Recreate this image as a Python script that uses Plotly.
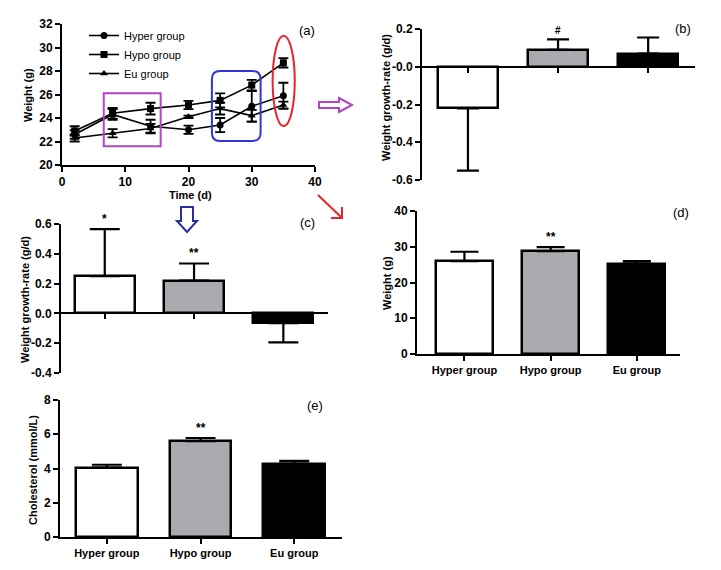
import plotly.graph_objects as go

# page body has an 8px margin: figure is drawn at (8, 8) in the 721x570 window
OFF = 8
W, H = 721 - 2 * OFF, 570 - 2 * OFF

# ---------------- data ----------------
days = [2, 8, 14, 20, 25, 30, 35]
hyper_w = [22.6, 24.3, 23.3, 23.0, 23.4, 25.0, 25.9]
hyper_w_sd = [0.35, 0.45, 0.55, 0.35, 0.6, 1.3, 1.1]
hypo_w = [22.9, 24.4, 24.8, 25.1, 25.5, 26.8, 28.7]
hypo_w_sd = [0.4, 0.45, 0.5, 0.35, 0.6, 0.45, 0.4]
eu_w = [22.3, 22.7, 23.1, 24.1, 24.8, 24.2, 25.1]
eu_w_sd = [0.3, 0.35, 0.4, 0.1, 0.5, 0.5, 0.3]

groups = ["Hyper group", "Hypo group", "Eu group"]
bar_colors = ["#ffffff", "#a9a9ae", "#000000"]

rate_b = [-0.22, 0.09, 0.07]
rate_b_up = [0.0, 0.055, 0.085]
rate_b_down = [0.33, 0.0, 0.0]
sig_b = ["", "#", ""]

rate_c = [0.25, 0.22, -0.065]
rate_c_up = [0.315, 0.115, 0.0]
rate_c_down = [0.0, 0.0, 0.13]
sig_c = ["*", "**", ""]

weight_d = [26.0, 28.8, 25.3]
weight_d_sd = [2.6, 1.1, 0.7]
sig_d = ["", "**", ""]

chol_e = [4.05, 5.6, 4.28]
chol_e_sd = [0.17, 0.18, 0.17]
sig_e = ["", "**", ""]

b_ticks = [0.2, 0.0, -0.2, -0.4, -0.6]
b_ticktext = ["0.2", "-0.0", "-0.2", "-0.4", "-0.6"]
c_ticks = [0.6, 0.4, 0.2, 0.0, -0.2, -0.4]
c_ticktext = ["0.6", "0.4", "0.2", "0.0", "-0.2", "-0.4"]

# ---------------- helpers (layout only: window pixel -> paper fraction) ----------------
def fx(p):
    return (p - OFF) / W

def fy(p):
    return 1 - (p - OFF) / H

FONT = "Liberation Sans, Arial, sans-serif"
tickfont = dict(family=FONT, size=12, color="black", weight="bold")

fig = go.Figure()

# ---------------- panel (a) ----------------
for name, y, sd, sym in [("Hyper group", hyper_w, hyper_w_sd, "circle"),
                         ("Hypo group", hypo_w, hypo_w_sd, "square"),
                         ("Eu group", eu_w, eu_w_sd, "triangle-up")]:
    fig.add_trace(go.Scatter(
        x=days, y=y, name=name, mode="lines+markers",
        line=dict(color="black", width=1.6),
        marker=dict(symbol=sym, size=7, color="black"),
        error_y=dict(type="data", array=sd, color="black", thickness=1.8, width=5),
        xaxis="x", yaxis="y"))

def bar_trace(vals, up, down, ax, width, cap):
    return go.Bar(
        x=groups, y=vals, width=width, showlegend=False,
        marker=dict(color=bar_colors, line=dict(color="black", width=2.5)),
        error_y=dict(type="data", symmetric=False, array=up, arrayminus=down,
                     color="black", thickness=2.2, width=cap),
        xaxis="x" + ax, yaxis="y" + ax)

fig.add_trace(bar_trace(rate_b, rate_b_up, rate_b_down, "2", 0.67, 11))
fig.add_trace(bar_trace(rate_c, rate_c_up, rate_c_down, "3", 0.67, 15))
fig.add_trace(bar_trace(weight_d, weight_d_sd, [0, 0, 0], "4", 0.66, 14))
fig.add_trace(bar_trace(chol_e, chol_e_sd, [0, 0, 0], "5", 0.66, 15))

axline = dict(showline=True, linecolor="black", linewidth=2, ticks="outside",
              tickcolor="black", tickwidth=2, ticklen=5, showgrid=False,
              zeroline=False, tickfont=tickfont, automargin=False)

# domains from pixel boxes (window coordinates)
dom_a = dict(x=[fx(62), fx(315)], y=[fy(165), fy(24)])
dom_b = dict(x=[fx(422), fx(695)], y=[fy(180), fy(29)])
dom_c = dict(x=[fx(61), fx(328)], y=[fy(373), fy(224)])
dom_d = dict(x=[fx(417), fx(680)], y=[fy(354), fy(211)])
dom_e = dict(x=[fx(60), fx(342)], y=[fy(537), fy(400)])

def zero_pos(dom, lo, hi):
    return dom["y"][0] + (0 - lo) / (hi - lo) * (dom["y"][1] - dom["y"][0])

fig.update_layout(
    width=W, height=H, margin=dict(l=0, r=0, t=0, b=0, autoexpand=False),
    paper_bgcolor="white", plot_bgcolor="rgba(0,0,0,0)",
    font=dict(family=FONT, color="black"),
    bargap=0,
    xaxis=dict(domain=dom_a["x"], range=[0, 40], tickvals=[0, 10, 20, 30, 40],
               anchor="y", **axline),
    yaxis=dict(domain=dom_a["y"], range=[20, 32], tickvals=list(range(20, 33, 2)),
               anchor="x", **axline),
    xaxis2=dict(domain=dom_b["x"], range=[-0.51, 2.52], anchor="free",
                position=zero_pos(dom_b, -0.6, 0.2), showticklabels=False,
                tickvals=groups, **axline),
    yaxis2=dict(domain=dom_b["y"], range=[-0.6, 0.2], tickvals=b_ticks,
                ticktext=b_ticktext, anchor="x2", **axline),
    xaxis3=dict(domain=dom_c["x"], range=[-0.49, 2.5], anchor="free",
                position=zero_pos(dom_c, -0.4, 0.6), showticklabels=False,
                tickvals=groups, **axline),
    yaxis3=dict(domain=dom_c["y"], range=[-0.4, 0.6], tickvals=c_ticks,
                ticktext=c_ticktext, anchor="x3", **axline),
    xaxis4=dict(domain=dom_d["x"], range=[-0.55, 2.5], anchor="y4", **axline),
    yaxis4=dict(domain=dom_d["y"], range=[0, 40], tickvals=[0, 10, 20, 30, 40],
                anchor="x4", **axline),
    xaxis5=dict(domain=dom_e["x"], range=[-0.5, 2.51], anchor="y5", **axline),
    yaxis5=dict(domain=dom_e["y"], range=[0, 8], tickvals=[0, 2, 4, 6, 8],
                anchor="x5", **axline),
    legend=dict(x=fx(84), y=fy(21), xanchor="left", yanchor="top",
                bgcolor="rgba(0,0,0,0)", font=dict(family=FONT, size=11, color="black"),
                tracegroupgap=0, itemwidth=30),
)

for ax in ["xaxis4", "xaxis5"]:
    fig.layout[ax].tickfont = dict(family=FONT, size=11, color="black", weight="bold")

ann = []
titlefont = dict(family=FONT, size=11, color="black", weight="bold")

def ptext(text, x, y, angle=0, font=titlefont):
    ann.append(dict(text=text, x=fx(x), y=fy(y), xref="paper", yref="paper",
                    showarrow=False, textangle=angle, font=font,
                    xanchor="center", yanchor="middle"))

ptext("Weight (g)", 28, 95, -90)
ptext("Time (d)", 190, 195)
ptext("Weight growth-rate (g/d)", 386, 98, -90)
ptext("Weight growth-rate (g/d)", 25, 300, -90)
ptext("Weight (g)", 387, 283, -90)
ptext("Cholesterol (mmol/L)", 33, 470, -90)

labfont = dict(family=FONT, size=13, color="black")
ptext("(a)", 307, 30, 0, labfont)
ptext("(b)", 683, 29, 0, labfont)
ptext("(c)", 307, 223, 0, labfont)
ptext("(d)", 681, 213, 0, labfont)
ptext("(e)", 315, 405, 0, labfont)

sigfont = dict(family=FONT, size=12, color="black", weight="bold")
for ax, vals, up, sig in [("2", rate_b, rate_b_up, sig_b), ("3", rate_c, rate_c_up, sig_c),
                          ("4", weight_d, weight_d_sd, sig_d), ("5", chol_e, chol_e_sd, sig_e)]:
    for g, v, u, s in zip(groups, vals, up, sig):
        if s:
            ann.append(dict(text=s, x=g, y=v + u, xref="x" + ax, yref="y" + ax,
                            showarrow=False, yanchor="bottom", yshift=1,
                            font=dict(sigfont, size=10 if s == "#" else 12)))
fig.update_layout(annotations=ann)

# ---------------- highlight shapes ----------------
purple = "#b146c2"
blue = "#2f35d6"
navy = "#2b2f9c"
red = "#e8242a"

shapes = []
shapes.append(dict(type="rect", xref="x", yref="y", x0=6.6, x1=15.6, y0=21.6, y1=26.1,
                   line=dict(color=purple, width=2)))
# rounded rectangle (blue)
x0, x1, y0, y1, rx, ry = 23.7, 31.4, 22.05, 28.0, 1.3, 0.7
path = (f"M{x0+rx},{y0} L{x1-rx},{y0} Q{x1},{y0} {x1},{y0+ry} L{x1},{y1-ry} "
        f"Q{x1},{y1} {x1-rx},{y1} L{x0+rx},{y1} Q{x0},{y1} {x0},{y1-ry} "
        f"L{x0},{y0+ry} Q{x0},{y0} {x0+rx},{y0} Z")
shapes.append(dict(type="path", xref="x", yref="y", path=path,
                   line=dict(color=blue, width=2)))
shapes.append(dict(type="circle", xref="x", yref="y", x0=33.3, x1=36.8, y0=23.3, y1=31.0,
                   line=dict(color=red, width=2)))

def ppath(pts, close=True):
    s = "M" + " L".join(f"{fx(x):.5f},{fy(y):.5f}" for x, y in pts)
    return s + (" Z" if close else "")

shapes.append(dict(type="path", xref="paper", yref="paper",
                   path=ppath([(319, 102), (339, 102), (339, 98), (352, 105),
                               (339, 112), (339, 108), (319, 108)]),
                   line=dict(color=purple, width=2)))
shapes.append(dict(type="path", xref="paper", yref="paper",
                   path=ppath([(181, 207), (193, 207), (193, 221), (197, 221),
                               (187, 232), (177, 221), (181, 221)]),
                   line=dict(color=navy, width=2)))
shapes.append(dict(type="path", xref="paper", yref="paper",
                   path=ppath([(318, 195), (342, 218)], close=False),
                   line=dict(color=red, width=2)))
shapes.append(dict(type="path", xref="paper", yref="paper",
                   path=ppath([(342, 207), (342, 218), (331, 218)], close=False),
                   line=dict(color=red, width=2)))
fig.update_layout(shapes=shapes)

fig.write_html("out.html")
